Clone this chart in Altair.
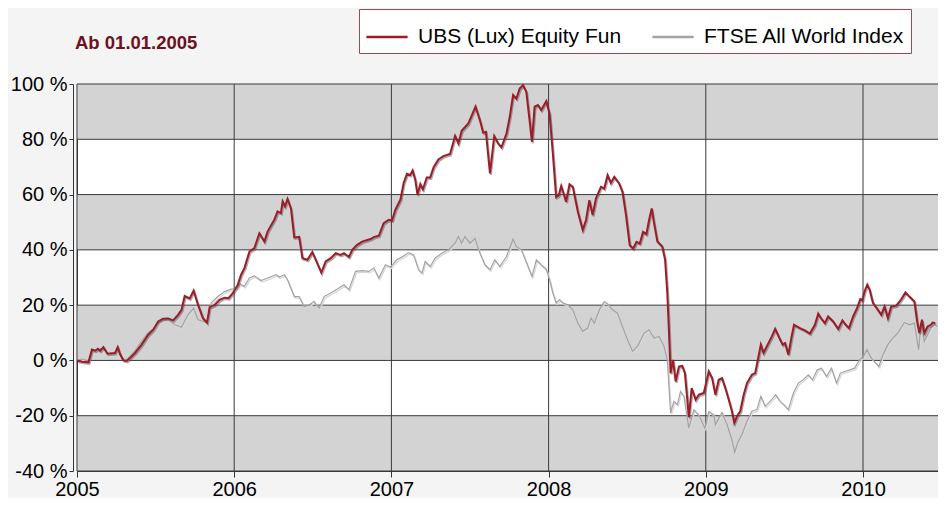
import altair as alt
import pandas as pd

# ---------------- data ----------------
title_text = "Ab 01.01.2005"
series_names = ["UBS (Lux) Equity Fun", "FTSE All World Index"]
series_colors = ["#9c1c27", "#a3a3a3"]

ubs = [
    (2005.000, 0.0), (2005.032, -0.5), (2005.073, -0.7), (2005.095, 3.9), (2005.116, 3.5),
    (2005.133, 4.2), (2005.147, 3.5), (2005.168, 4.8), (2005.194, 2.4), (2005.242, 2.7),
    (2005.259, 4.8), (2005.274, 2.3), (2005.295, 0.0), (2005.316, -0.2), (2005.337, 0.9),
    (2005.369, 2.7), (2005.411, 5.7), (2005.453, 9.3), (2005.485, 11.1), (2005.516, 14.1),
    (2005.548, 15.1), (2005.580, 15.2), (2005.611, 14.5), (2005.643, 16.5), (2005.665, 18.3),
    (2005.685, 23.3), (2005.717, 22.4), (2005.742, 25.2), (2005.770, 20.1), (2005.801, 15.3),
    (2005.827, 13.7), (2005.844, 19.3), (2005.875, 20.1), (2005.907, 21.9), (2005.939, 22.7),
    (2005.964, 22.5), (2005.991, 24.3), (2006.023, 27.4), (2006.044, 31.0), (2006.065, 33.4),
    (2006.097, 39.4), (2006.128, 40.6), (2006.160, 46.0), (2006.192, 43.0), (2006.213, 46.7),
    (2006.255, 50.9), (2006.276, 53.9), (2006.297, 53.3), (2006.308, 57.5), (2006.323, 55.7),
    (2006.339, 58.4), (2006.361, 55.0), (2006.382, 44.5), (2006.413, 44.7), (2006.434, 37.0),
    (2006.466, 36.4), (2006.497, 39.2), (2006.519, 36.4), (2006.554, 31.8), (2006.582, 35.8),
    (2006.614, 37.0), (2006.646, 38.8), (2006.677, 38.2), (2006.698, 38.8), (2006.730, 37.4),
    (2006.751, 40.0), (2006.782, 41.8), (2006.814, 43.0), (2006.867, 43.9), (2006.888, 44.6),
    (2006.920, 45.1), (2006.951, 49.7), (2006.983, 50.9), (2007.004, 50.6), (2007.025, 54.5),
    (2007.057, 58.1), (2007.078, 64.2), (2007.099, 67.5), (2007.120, 67.1), (2007.135, 68.7),
    (2007.152, 65.3), (2007.166, 59.9), (2007.184, 63.8), (2007.200, 61.9), (2007.225, 66.2),
    (2007.247, 66.2), (2007.268, 69.8), (2007.299, 72.7), (2007.331, 73.9), (2007.373, 74.7),
    (2007.405, 81.2), (2007.426, 78.5), (2007.447, 83.1), (2007.489, 85.7), (2007.535, 91.8),
    (2007.563, 86.9), (2007.584, 82.4), (2007.601, 82.7), (2007.627, 67.7), (2007.654, 81.2),
    (2007.679, 78.5), (2007.700, 77.1), (2007.732, 82.1), (2007.753, 88.2), (2007.774, 96.0),
    (2007.795, 94.7), (2007.816, 98.4), (2007.837, 99.6), (2007.858, 97.2), (2007.880, 86.3),
    (2007.894, 79.1), (2007.911, 91.8), (2007.932, 92.4), (2007.953, 90.6), (2007.985, 93.8),
    (2008.006, 89.2), (2008.027, 74.8), (2008.048, 59.1), (2008.065, 59.8), (2008.080, 63.1),
    (2008.095, 60.4), (2008.111, 57.4), (2008.133, 63.7), (2008.154, 62.8), (2008.186, 53.8),
    (2008.217, 47.2), (2008.238, 50.8), (2008.259, 58.0), (2008.280, 52.6), (2008.301, 58.6),
    (2008.333, 62.8), (2008.354, 62.2), (2008.375, 67.0), (2008.396, 64.2), (2008.418, 66.4),
    (2008.449, 64.0), (2008.470, 61.0), (2008.491, 53.1), (2008.516, 41.7), (2008.538, 40.5),
    (2008.559, 42.9), (2008.580, 42.3), (2008.601, 46.5), (2008.622, 45.7), (2008.639, 50.8),
    (2008.656, 55.0), (2008.671, 49.6), (2008.692, 43.0), (2008.723, 41.2), (2008.741, 36.4),
    (2008.755, 24.3), (2008.766, 9.9), (2008.776, -4.6), (2008.791, 0.2), (2008.808, -7.6),
    (2008.829, -2.2), (2008.850, -2.0), (2008.867, -4.6), (2008.892, -20.5), (2008.910, -10.0),
    (2008.935, -14.2), (2008.956, -12.4), (2008.987, -11.8), (2009.019, -4.0), (2009.040, -6.4),
    (2009.061, -12.4), (2009.082, -7.0), (2009.103, -6.4), (2009.124, -10.0), (2009.146, -14.2),
    (2009.166, -18.4), (2009.181, -22.6), (2009.198, -20.2), (2009.219, -18.4), (2009.241, -12.4),
    (2009.262, -8.2), (2009.293, -5.2), (2009.314, -4.6), (2009.335, 1.4), (2009.350, 5.7),
    (2009.367, 2.7), (2009.388, 5.1), (2009.420, 8.7), (2009.441, 11.4), (2009.468, 8.1),
    (2009.489, 5.7), (2009.504, 6.3), (2009.525, 2.1), (2009.546, 8.7), (2009.561, 12.9),
    (2009.599, 11.7), (2009.630, 10.9), (2009.662, 9.7), (2009.694, 12.9), (2009.715, 16.9),
    (2009.736, 15.0), (2009.757, 13.5), (2009.778, 15.9), (2009.810, 14.1), (2009.842, 11.4),
    (2009.869, 14.5), (2009.890, 12.9), (2009.911, 11.7), (2009.937, 15.9), (2009.962, 18.9),
    (2009.983, 22.2), (2009.996, 21.7), (2010.010, 25.0), (2010.027, 27.4), (2010.042, 25.6),
    (2010.063, 20.8), (2010.095, 18.3), (2010.116, 16.5), (2010.137, 19.5), (2010.158, 15.3),
    (2010.179, 19.5), (2010.211, 19.8), (2010.242, 22.0), (2010.270, 24.6), (2010.295, 23.1),
    (2010.327, 21.3), (2010.344, 14.1), (2010.358, 9.9), (2010.375, 14.7), (2010.390, 9.9),
    (2010.411, 12.3), (2010.432, 12.9), (2010.443, 13.7), (2010.460, 13.5),
]

ftse = [
    (2005.000, 0.0), (2005.032, 0.5), (2005.073, -0.2), (2005.095, 3.5), (2005.133, 4.0),
    (2005.168, 4.3), (2005.194, 2.5), (2005.242, 2.5), (2005.259, 4.0), (2005.274, 2.0),
    (2005.295, 0.5), (2005.316, 0.3), (2005.337, 1.5), (2005.369, 3.5), (2005.411, 7.0),
    (2005.453, 10.0), (2005.485, 11.5), (2005.516, 13.5), (2005.548, 14.5), (2005.580, 14.8),
    (2005.622, 12.9), (2005.665, 12.0), (2005.706, 16.5), (2005.742, 18.9), (2005.770, 14.7),
    (2005.823, 13.7), (2005.854, 20.8), (2005.896, 23.1), (2005.939, 24.9), (2005.981, 25.8),
    (2006.023, 26.2), (2006.034, 27.8), (2006.065, 26.8), (2006.097, 29.8), (2006.128, 30.6),
    (2006.171, 28.9), (2006.213, 29.8), (2006.266, 31.0), (2006.287, 30.2), (2006.319, 31.0),
    (2006.339, 29.2), (2006.382, 23.1), (2006.413, 23.1), (2006.445, 19.5), (2006.477, 20.1),
    (2006.508, 21.3), (2006.540, 18.9), (2006.572, 23.1), (2006.614, 24.4), (2006.656, 25.8),
    (2006.698, 27.4), (2006.730, 25.6), (2006.772, 32.2), (2006.814, 32.5), (2006.856, 32.2),
    (2006.888, 33.4), (2006.920, 29.8), (2006.962, 34.6), (2006.994, 33.8), (2007.035, 36.4),
    (2007.078, 37.8), (2007.109, 39.0), (2007.141, 38.2), (2007.173, 32.8), (2007.194, 31.6),
    (2007.215, 35.8), (2007.247, 34.0), (2007.278, 37.0), (2007.320, 38.8), (2007.363, 40.0),
    (2007.405, 42.4), (2007.426, 44.8), (2007.447, 42.4), (2007.468, 44.8), (2007.500, 42.4),
    (2007.532, 44.2), (2007.563, 38.8), (2007.595, 34.6), (2007.627, 32.8), (2007.658, 36.4),
    (2007.690, 34.0), (2007.732, 37.6), (2007.774, 43.9), (2007.795, 41.2), (2007.827, 40.0),
    (2007.869, 34.0), (2007.894, 30.4), (2007.922, 36.4), (2007.953, 34.6), (2007.985, 33.0),
    (2008.006, 29.2), (2008.027, 24.4), (2008.048, 20.8), (2008.070, 22.0), (2008.091, 20.8),
    (2008.122, 20.1), (2008.154, 18.3), (2008.186, 13.5), (2008.217, 10.5), (2008.249, 11.7),
    (2008.270, 15.3), (2008.291, 13.5), (2008.323, 18.3), (2008.354, 21.3), (2008.375, 20.5),
    (2008.407, 18.3), (2008.438, 17.1), (2008.470, 12.3), (2008.502, 7.5), (2008.534, 3.3),
    (2008.565, 5.1), (2008.608, 9.9), (2008.639, 11.1), (2008.671, 8.1), (2008.703, 8.7),
    (2008.734, 5.1), (2008.755, 0.3), (2008.776, -19.0), (2008.797, -14.8), (2008.819, -16.0),
    (2008.839, -11.2), (2008.861, -13.0), (2008.892, -24.5), (2008.924, -17.9), (2008.956, -19.7),
    (2008.994, -24.5), (2009.019, -18.5), (2009.051, -19.7), (2009.061, -23.2), (2009.103, -18.8),
    (2009.135, -23.2), (2009.166, -28.7), (2009.184, -33.2), (2009.203, -29.8), (2009.230, -26.8),
    (2009.262, -22.0), (2009.293, -18.4), (2009.325, -17.8), (2009.350, -13.0), (2009.377, -16.6),
    (2009.409, -14.8), (2009.445, -12.4), (2009.472, -14.8), (2009.497, -16.0), (2009.525, -17.8),
    (2009.557, -11.8), (2009.589, -8.2), (2009.620, -7.0), (2009.652, -5.2), (2009.679, -7.0),
    (2009.709, -3.4), (2009.736, -2.8), (2009.768, -5.8), (2009.799, -2.8), (2009.831, -8.2),
    (2009.856, -4.6), (2009.884, -4.0), (2009.915, -3.4), (2009.947, -2.8), (2009.978, 0.3),
    (2010.000, 1.2), (2010.025, 3.9), (2010.052, 0.9), (2010.073, -0.4), (2010.101, -2.2),
    (2010.127, 2.1), (2010.158, 5.7), (2010.190, 8.1), (2010.222, 9.9), (2010.263, 13.7),
    (2010.295, 12.9), (2010.327, 13.5), (2010.354, 3.9), (2010.369, 13.5), (2010.390, 6.9),
    (2010.411, 9.3), (2010.432, 11.7), (2010.453, 12.9), (2010.475, 12.3),
]

year_ticks = [2005, 2006, 2007, 2008, 2009, 2010]
pct_ticks = [-40, -20, 0, 20, 40, 60, 80, 100]
band_lo = [80, 40, 0, -40]
band_hi = [100, 60, 20, -20]
x_domain = [2005.0, 2010.477]
y_domain = [-40, 100]

# ---------------- tables ----------------
df_ubs = pd.DataFrame(ubs, columns=["t", "v"]).assign(series=series_names[0])
df_ftse = pd.DataFrame(ftse, columns=["t", "v"]).assign(series=series_names[1])
bands = pd.DataFrame({"lo": band_lo, "hi": band_hi})
ygrid = pd.DataFrame({"v": pct_ticks})
xgrid = pd.DataFrame({"t": year_ticks})
title_df = pd.DataFrame({"label": [title_text]})

FONT = "Liberation Sans"
W, H = 861, 387

xscale = alt.Scale(domain=x_domain, nice=False, zero=False)
yscale = alt.Scale(domain=y_domain, nice=False, zero=False)

x_axis = alt.Axis(values=year_ticks, format="d", grid=False, domain=True, domainColor="#333333",
                  ticks=True, tickSize=6, tickColor="#333333", labelFontSize=20, labelFont=FONT,
                  labelColor="#000000", labelPadding=2, title=None, labelFlush=False)
y_axis = alt.Axis(values=pct_ticks, grid=False, domain=True, domainColor="#333333", offset=4,
                  ticks=True, tickSize=4, tickColor="#333333", labelFontSize=20, labelFont=FONT,
                  labelColor="#000000", labelPadding=2, title=None, labelExpr="datum.value + ' %'")

band_layer = alt.Chart(bands).mark_rect(color="#d3d3d3").encode(
    y=alt.Y("lo:Q", scale=yscale, axis=y_axis), y2="hi:Q")

hgrid = alt.Chart(ygrid).mark_rule(color="#3a3a3a", strokeWidth=1).encode(
    y=alt.Y("v:Q", scale=yscale))
vgrid = alt.Chart(xgrid).mark_rule(color="#3a3a3a", strokeWidth=1).encode(
    x=alt.X("t:Q", scale=xscale, axis=x_axis))

ftse_shadow = alt.Chart(df_ftse).mark_line(color="#d8d8d8", strokeWidth=1.3, xOffset=1, yOffset=1.5).encode(
    x=alt.X("t:Q", scale=xscale), y=alt.Y("v:Q", scale=yscale))
ubs_shadow = alt.Chart(df_ubs).mark_line(color="#4a4a4a", strokeWidth=2, opacity=0.45, xOffset=1, yOffset=1.5).encode(
    x=alt.X("t:Q", scale=xscale), y=alt.Y("v:Q", scale=yscale))

color = alt.Color("series:N", scale=alt.Scale(domain=series_names, range=series_colors),
                  legend=alt.Legend(title=None, orient="none", legendX=282, legendY=-75,
                                    direction="horizontal", symbolType="stroke", symbolSize=1700,
                                    symbolStrokeWidth=2.5, labelFontSize=21, labelFont=FONT,
                                    labelColor="#000000", labelOffset=9, columnPadding=25,
                                    padding=6, fillColor="#ffffff", strokeColor="#9a4a55",
                                    labelLimit=400, symbolOpacity=1))

ftse_line = alt.Chart(df_ftse).mark_line(strokeWidth=1.2).encode(
    x=alt.X("t:Q", scale=xscale), y=alt.Y("v:Q", scale=yscale), color=color)
ubs_line = alt.Chart(df_ubs).mark_line(strokeWidth=2).encode(
    x=alt.X("t:Q", scale=xscale), y=alt.Y("v:Q", scale=yscale), color=color)

title_layer = alt.Chart(title_df).mark_text(align="left", baseline="alphabetic", font=FONT,
                                             fontSize=18.5, fontWeight="bold", color="#6d1020").encode(
    x=alt.value(-2), y=alt.value(-35), text="label:N")

chart = alt.layer(band_layer, hgrid, vgrid, ftse_shadow, ftse_line, ubs_shadow, ubs_line, title_layer).properties(
    width=W, height=H,
    autosize=alt.AutoSizeParams(type="none"),
    padding={"left": 69, "top": 76, "right": 0, "bottom": 27},
    background="#f4f4f4",
).configure_view(fill="#ffffff", stroke="#333333", strokeWidth=1)

chart.save("out.html", embed_options={"renderer": "svg", "actions": False})
